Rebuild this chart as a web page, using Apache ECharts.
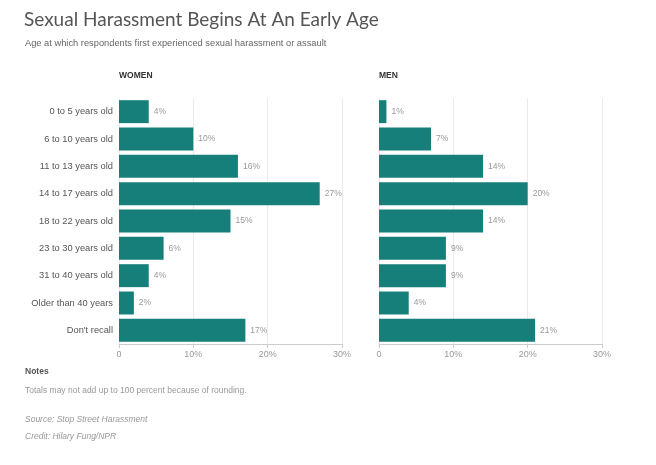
<!DOCTYPE html>
<html><head><meta charset="utf-8">
<script src="https://cdn.jsdelivr.net/npm/echarts@6/dist/echarts.min.js"></script>
<style>html,body{margin:0;padding:0;background:#fff}#c{width:656px;height:465px}</style>
</head><body><div id="c"></div>
<script>
const categories = ["0 to 5 years old","6 to 10 years old","11 to 13 years old","14 to 17 years old","18 to 22 years old","23 to 30 years old","31 to 40 years old","Older than 40 years","Don't recall"];
const women = [4,10,16,27,15,6,4,2,17];
const men = [1,7,14,20,14,9,9,4,21];
const tickValues = [0,10,20,30];

const BAR = '#177f7a';
const SANS = '"Liberation Sans", Arial, sans-serif';
const chart = echarts.init(document.getElementById('c'), null, {renderer:'canvas'});

function xAx(gi){
  return {gridIndex:gi,type:'value',min:tickValues[0],max:tickValues[tickValues.length-1],interval:10,
    axisLine:{show:true,lineStyle:{color:'#ccc'}},
    axisTick:{show:true,length:4,lineStyle:{color:'#ccc'}},
    axisLabel:{color:'#999',fontSize:9,fontFamily:SANS,margin:6,formatter:v=>v===0?'0':v+'%'},
    splitLine:{show:true,lineStyle:{color:'#ebebeb'}}};
}
function yAx(gi,show){
  return {gridIndex:gi,type:'category',data:categories,inverse:true,
    axisLine:{show:false},axisTick:{show:false},
    axisLabel:{show:show,color:'#555',fontSize:9.3,fontFamily:SANS,margin:6}};
}
function ser(gi,data){
  return {type:'bar',xAxisIndex:gi,yAxisIndex:gi,data:data,barCategoryGap:'16%',
    itemStyle:{color:BAR},silent:true,
    label:{show:true,position:'right',distance:5,color:'#999',fontSize:8.5,fontFamily:SANS,formatter:'{c}%'}};
}
function t(text,left,top,size,extra){
  return {text:text,left:left,top:top,padding:0,textStyle:Object.assign({fontFamily:SANS,fontWeight:'normal',fontSize:size,color:'#999'},extra||{})};
}
chart.setOption({
  animation:false,
  title:[
    t('Sexual Harassment Begins At An Early Age',24,10,19,{fontFamily:'Lato, sans-serif',color:'#555'}),
    t('Age at which respondents first experienced sexual harassment or assault',25,39,9.3,{color:'#666'}),
    t('WOMEN',119,71,8.5,{fontWeight:'bold',color:'#333'}),
    t('MEN',379,71,8.5,{fontWeight:'bold',color:'#333'}),
    t('Notes',25,367,8.5,{fontWeight:'bold',color:'#555'}),
    t('Totals may not add up to 100 percent because of rounding.',25,386,8.5),
    t('Source: Stop Street Harassment',25,415,8.5,{fontStyle:'italic'}),
    t('Credit: Hilary Fung/NPR',25,432,8.5,{fontStyle:'italic'})
  ],
  grid:[
    {left:119,width:223,top:98,height:246},
    {left:379,width:223,top:98,height:246}
  ],
  xAxis:[xAx(0),xAx(1)],
  yAxis:[yAx(0,true),yAx(1,false)],
  series:[ser(0,women),ser(1,men)]
});
</script></body></html>
